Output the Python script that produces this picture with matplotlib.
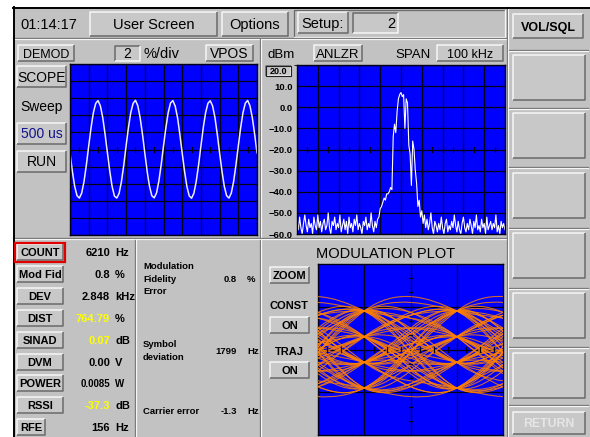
import numpy as np
import matplotlib
matplotlib.use('Agg')
import matplotlib.pyplot as plt
from matplotlib.patches import Rectangle, PathPatch
from matplotlib.path import Path

plt.rcParams['font.family'] = ['Liberation Sans', 'DejaVu Sans']

W, H = 590, 437

# ---------------- data ----------------
clock_text = '01:14:17'
screen_title = 'User Screen'
options_label = 'Options'
setup_label = 'Setup:'
setup_value = '2'

scope_mode = 'DEMOD'
scope_scale_value = '2'
scope_scale_unit = '%/div'
scope_vpos = 'VPOS'
scope_buttons = ['SCOPE', 'Sweep', '500 us', 'RUN']
scope_sample_div = 0.125          # horizontal spacing of the samples, in divisions
scope_wave = [
    -0.20, -1.27, -2.15, -2.70, -2.84, -2.55, -1.87, -0.90, 0.20, 1.27, 2.15, 2.70, 2.86, 2.55, 1.87, 0.90,
    -0.18, -1.25, -2.15, -2.72, -2.84, -2.57, -1.88, -0.92, 0.22, 1.28, 2.16, 2.70, 2.88, 2.56, 1.86, 0.90,
    -0.20, -1.28, -2.14, -2.70, -2.83, -2.55, -1.86, -0.90, 0.20, 1.26, 2.15, 2.72, 2.86, 2.54, 1.87, 0.88,
    -0.21, -1.27, -2.16, -2.71, -2.85, -2.56, -1.87, -0.91, 0.19, 1.27, 2.14, 2.70, 2.85, 2.55, 1.88, 0.90,
    -0.20, -1.26, -2.15, -2.70, -2.84, -2.55, -1.87, -0.90, 0.20, 1.27, 2.15, 2.71, 2.87, 2.55, 1.86, 0.89,
    -0.20,
]

spec_unit = 'dBm'
spec_mode = 'ANLZR'
spec_span_label = 'SPAN'
spec_span_value = '100 kHz'
spec_ref_level = 20.0
spec_level_ticks = [10, 0, -10, -20, -30, -40, -50, -60]
spec_start_khz = -50.0
spec_step_khz = 0.625
spec_levels = [
    -54, -58, -52, -57, -60, -55, -51, -56, -59, -53,
    -57, -55, -60, -52, -56, -58, -51, -57, -54, -59,
    -55, -53, -58, -56, -50, -57, -60, -54, -56, -52,
    -58, -55, -57, -51, -59, -56, -53, -58, -54, -60,
    -52, -57, -55, -59, -53, -56, -51, -58, -55, -57,
    -60, -54, -56, -52, -58, -55, -57, -50, -56, -59,
    -54, -57, -53, -52, -48, -47, -45, -43, -44, -41,
    -41, -40, -38, -39, -14, -8, -12, -2, 4, 6,
    7, 5, 6, -10, 4, 2, -18, -22, -37, -16,
    -20, -30, -36, -47, -44, -52, -49, -55, -51, -57,
    -53, -58, -55, -50, -57, -60, -54, -56, -59, -55,
    -58, -52, -57, -60, -55, -53, -59, -56, -58, -54,
    -57, -51, -56, -59, -54, -58, -60, -55, -52, -57,
    -59, -55, -58, -53, -56, -60, -54, -57, -51, -58,
    -56, -59, -53, -57, -55, -60, -52, -58, -56, -54,
    -58, -55, -57, -51, -59, -56, -60, -54, -57, -55,
    -58,
]

meas_labels = ['COUNT', 'Mod Fid', 'DEV', 'DIST', 'SINAD', 'DVM', 'POWER', 'RSSI', 'RFE']
meas_values = ['6210', '0.8', '2.848', '764.79', '0.07', '0.00', '0.0085', '-37.3', '156']
meas_units = ['Hz', '%', 'kHz', '%', 'dB', 'V', 'W', 'dB', 'Hz']
meas_highlight = [False, False, False, True, True, False, False, True, False]

quality_labels = ['Modulation\nFidelity\nError', 'Symbol\ndeviation', 'Carrier error']
quality_values = ['0.8', '1799', '-1.3']
quality_units = ['%', 'Hz', 'Hz']

mod_title = 'MODULATION PLOT'
mod_zoom = 'ZOOM'
mod_const = ('CONST', 'ON')
mod_traj = ('TRAJ', 'ON')
eye_level_khz = 0.6
eye_symbols = [3, 1, -1, -3, 3, 3, -1, 1, -3, -1, 1, 3, -3, 1, 1, -1, 3, -1, -3, -3,
               1, 3, 1, -1, -1, 3, -3, 3, -1, 1, 1, -3, -1, 3, 3, 1, -3, 1, -1, -3,
               3, -1, 1, 3, -1, -1, 1, -3, 3, 1, -1, 3, -3, -1, 1, -1, 3, 1, -3, 3,
               -3, -1, -1, 1, 3, -1, 1, -3, 3, 1]

softkeys = ['VOL/SQL', '', '', '', '', '', '', 'RETURN']

# ---------------- styles ----------------
BG = '#c2c2c2'
FACE = '#c8c8c8'
LIGHT = '#f6f6f6'
DARK = '#6a6a6a'
BLUE = '#0000ff'
GRIDC = '#000018'

fig = plt.figure(figsize=(W / 100, H / 100), dpi=100, facecolor='white')
ax = fig.add_axes([0, 0, 1, 1])
ax.set_xlim(0, W)
ax.set_ylim(H, 0)
ax.axis('off')


def rect(x0, y0, x1, y1, fc, ec='none', lw=1.0, z=1):
    ax.add_patch(Rectangle((x0, y0), x1 - x0, y1 - y0, facecolor=fc, edgecolor=ec, lw=lw, zorder=z))


def bevel(x0, y0, x1, y1, raised=True, face=FACE, lw=1.1, z=2):
    rect(x0, y0, x1, y1, face, z=z)
    lt, dk = (LIGHT, DARK) if raised else (DARK, LIGHT)
    ax.plot([x0, x0, x1], [y1, y0, y0], color=lt, lw=lw, zorder=z + 0.1, solid_capstyle='butt')
    ax.plot([x0, x1, x1], [y1, y1, y0], color=dk, lw=lw, zorder=z + 0.1, solid_capstyle='butt')


def label(xc, yc, s, size=10, weight='normal', color='black', ha='center', z=5):
    ax.text(xc, yc + 0.5 * size, s, fontsize=size, fontweight=weight, color=color,
            ha=ha, va='baseline', zorder=z)


def button(x0, y0, x1, y1, s, size=10, weight='normal', color='black', raised=True):
    bevel(x0, y0, x1, y1, raised=raised)
    label((x0 + x1) / 2, (y0 + y1) / 2, s, size=size, weight=weight, color=color)


def hgroove(x0, x1, y):
    ax.plot([x0, x1], [y, y], color=DARK, lw=0.9, zorder=3)
    ax.plot([x0, x1], [y + 1, y + 1], color=LIGHT, lw=0.9, zorder=3)


def vgroove(x, y0, y1):
    ax.plot([x, x], [y0, y1], color=DARK, lw=0.9, zorder=3)
    ax.plot([x + 1, x + 1], [y0, y1], color=LIGHT, lw=0.9, zorder=3)


def data_axes(x0, y0, x1, y1):
    a = fig.add_axes([x0 / W, 1 - y1 / H, (x1 - x0) / W, (y1 - y0) / H])
    a.set_facecolor(BLUE)
    for sp in a.spines.values():
        sp.set_color(GRIDC)
        sp.set_linewidth(1.0)
    a.tick_params(length=0, labelbottom=False, labelleft=False)
    return a


# ---------------- frame ----------------
rect(13, 7, W, H, BG, z=0)
ax.plot([13.5, 13.5], [7, H], color='black', lw=1.4, zorder=4)
ax.plot([13, W], [7.5, 7.5], color='black', lw=1.4, zorder=4)

# top bar
label(20, 24, clock_text, size=10.5, ha='left')
button(90, 12, 217, 36, screen_title, size=10.5)
button(222, 12, 288, 36, options_label, size=10.5)
ax.plot([294, 294, 505], [37, 10, 10], color=DARK, lw=0.9, zorder=3)
ax.plot([294, 505, 505], [37, 37, 10], color=LIGHT, lw=0.9, zorder=3)
button(298, 12, 348, 33, setup_label, size=10.5)
bevel(353, 13, 398, 33, raised=False)
label(395, 23, setup_value, size=10.5, ha='right')
hgroove(13, 507, 38)

# panel grooves
vgroove(260, 39, 238)
hgroove(13, 507, 238)
vgroove(135, 240, H)
vgroove(260, 240, H)
vgroove(507, 7, H)

# ---------------- scope panel ----------------
button(18, 45, 74, 61, scope_mode, size=9)
bevel(115, 46, 140, 61, raised=False)
label(127.5, 53.5, scope_scale_value, size=10)
label(144, 53, scope_scale_unit, size=10.5, ha='left')
button(206, 45, 253, 61, scope_vpos, size=10)
button(17, 66, 66, 87, scope_buttons[0], size=10)
label(41.5, 106, scope_buttons[1], size=10)
button(17, 123, 66, 144, scope_buttons[2], size=10, color='#12128c')
button(17, 151, 66, 172, scope_buttons[3], size=10)

sa = data_axes(70, 64, 257, 235)
sa.set_xlim(0, 10)
sa.set_ylim(-5, 5)
sa.set_xticks(np.arange(0, 11, 1))
sa.set_yticks(np.arange(-5, 6, 1))
sa.grid(True, color=GRIDC, lw=0.9)
for xm in np.arange(0.5, 10, 0.5):
    sa.plot([xm, xm], [-0.12, 0.12], color=GRIDC, lw=0.9)
t = np.arange(len(scope_wave)) * scope_sample_div
sa.plot(t, scope_wave, color='#eeeeff', lw=1.1)

# ---------------- spectrum panel ----------------
label(281, 53, spec_unit, size=9.5)
button(314, 45, 362, 61, spec_mode, size=9.5)
label(413, 53, spec_span_label, size=9.5)
button(437, 45, 503, 61, spec_span_value, size=9)
bevel(266, 66, 291, 76, raised=False)
rect(266, 66, 291, 76, 'none', ec='#202020', lw=0.8, z=3)
label(278.5, 71, f'{spec_ref_level:.1f}', size=6.5, weight='bold')

pa = data_axes(297, 65, 505, 234)
pa.set_xlim(-50, 50)
pa.set_ylim(-60, 20)
pa.set_xticks(np.arange(-50, 51, 10))
pa.set_yticks(np.arange(-60, 21, 10))
pa.grid(True, color=GRIDC, lw=0.9)
pa.set_yticks(spec_level_ticks)
pa.set_yticklabels([f'{v:.1f}'.replace('-', '\u2212') for v in spec_level_ticks])
pa.tick_params(labelleft=True, pad=3)
for tl in pa.get_yticklabels():
    tl.set_fontsize(6.8)
    tl.set_fontweight('bold')
pa.set_yticks(np.arange(-60, 21, 10), minor=True)
pa.grid(True, which='minor', axis='y', color=GRIDC, lw=0.9)
for xm in np.arange(-45, 50, 5):
    pa.plot([xm, xm], [-21, -19], color=GRIDC, lw=0.9)
freqs = spec_start_khz + spec_step_khz * np.arange(len(spec_levels))
pa.plot(freqs, spec_levels, color='white', lw=0.8)

# ---------------- measurement list ----------------
for i, (lab, val, unit, hi) in enumerate(zip(meas_labels, meas_values, meas_units, meas_highlight)):
    yc = 252 + 21.9 * i
    x1 = 45 if lab == 'RFE' else 63
    button(17, yc - 8, x1, yc + 8, lab, size=8, weight='bold')
    vsize = 7 if lab == 'POWER' else 8
    label(110, yc, val, size=vsize, weight='bold', color='#ffff00' if hi else 'black', ha='right')
    label(115, yc, unit, size=vsize, weight='bold', ha='left')
rect(15, 242.5, 65, 262, 'none', ec='#e00000', lw=1.6, z=4)

# ---------------- quality panel ----------------
q_y = [279, 351, 411]
for lab, val, unit, yc in zip(quality_labels, quality_values, quality_units, q_y):
    ax.text(143, yc, lab, fontsize=6.8, fontweight='bold', ha='left', va='center',
            linespacing=1.55, zorder=5)
    label(237, yc, val, size=6.8, weight='bold', ha='right')
    label(247, yc, unit, size=6.8, weight='bold', ha='left')

# ---------------- modulation plot ----------------
label(386, 253, mod_title, size=10.5)
button(270, 267, 309, 283, mod_zoom, size=8, weight='bold')
label(289, 305, mod_const[0], size=8, weight='bold')
button(270, 317, 309, 333, mod_const[1], size=8, weight='bold')
label(289, 351, mod_traj[0], size=8, weight='bold')
button(270, 362, 309, 378, mod_traj[1], size=8, weight='bold')

ea = data_axes(318, 264, 503, 435)
ea.set_xlim(-0.5, 1.5)
ea.set_ylim(-4, 4)
ea.set_xticks([0, 0.5, 1])
ea.set_yticks([-2, 0, 2])
ea.grid(True, color=GRIDC, lw=0.9)

s = np.asarray(eye_symbols, float) * eye_level_khz
tension = 0.9
m = np.zeros_like(s)
m[1:-1] = tension * (s[2:] - s[:-2])
for k in range(2, len(s) - 3):
    verts = [(-1.0, s[k - 1])]
    codes = [Path.MOVETO]
    for j in range(k - 1, k + 2):
        x = j - k
        verts += [(x + 1 / 3, s[j] + m[j] / 3), (x + 2 / 3, s[j + 1] - m[j + 1] / 3), (x + 1, s[j + 1])]
        codes += [Path.CURVE4] * 3
    ea.add_patch(PathPatch(Path(verts, codes), facecolor='none', edgecolor='#ff8000',
                           lw=0.8, alpha=0.8, zorder=3))
for ym in [-3.33, -2.67, -1.33, -0.67, 0.67, 1.33, 2.67, 3.33]:
    ea.plot([0.48, 0.52], [ym, ym], color=GRIDC, lw=0.9, zorder=4)
for xm in [-0.4, -0.25, -0.1, 0.1, 0.25, 0.4, 0.6, 0.75, 0.9, 1.1, 1.25, 1.4]:
    ea.plot([xm, xm], [-0.12, 0.12], color=GRIDC, lw=0.9, zorder=4)

# ---------------- softkeys ----------------
key_boxes = [(14, 38), (55, 100), (113, 158), (173, 218), (233, 278), (293, 338), (353, 398), (412, 434)]
for (y0, y1), key in zip(key_boxes, softkeys):
    x1 = 583 if key == 'VOL/SQL' else 585
    if key == 'RETURN':
        button(513, y0, x1, y1, key, size=8.8, weight='bold', color='#e6e6e6')
    else:
        button(513, y0, x1, y1, key, size=9, weight='bold')
for ys in [50, 108, 167, 228, 288, 347, 405]:
    hgroove(509, 588, ys)

fig.savefig('out.png', dpi=100)
